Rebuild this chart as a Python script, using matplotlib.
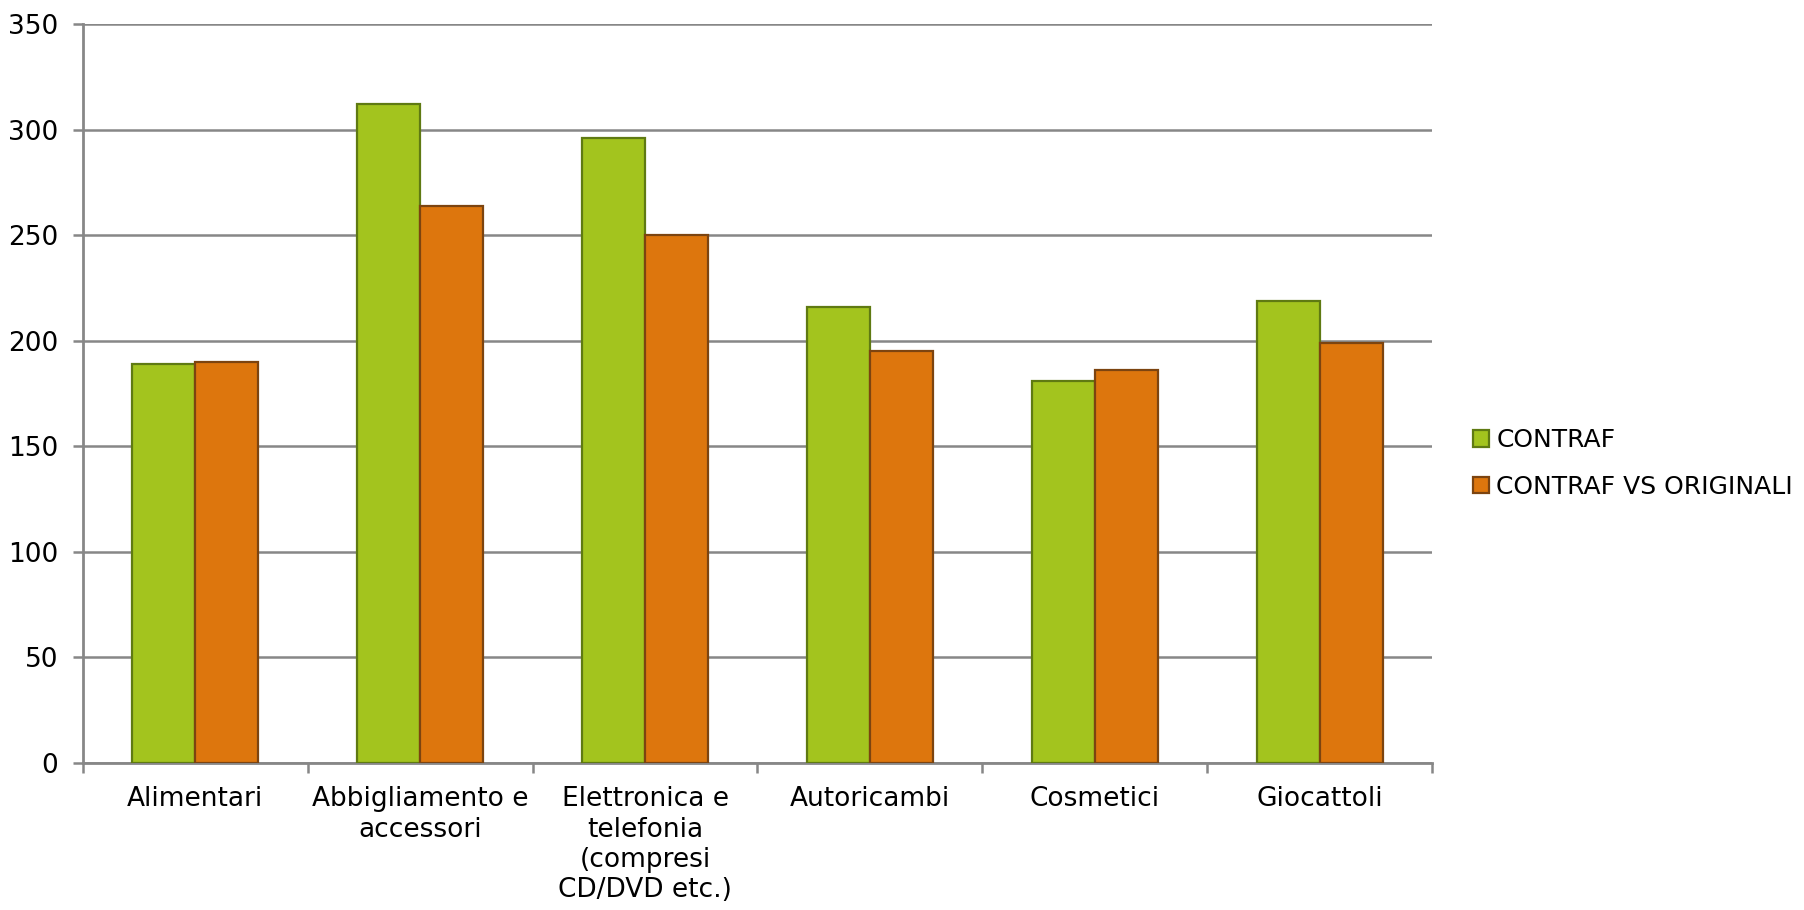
import numpy as np
import matplotlib
matplotlib.use("Agg")
import matplotlib.pyplot as plt

plt.rcParams['font.family'] = ['DejaVu Sans']

categorie = ["Alimentari", "Abbigliamento e\naccessori",
             "Elettronica e\ntelefonia\n(compresi\nCD/DVD etc.)",
             "Autoricambi", "Cosmetici", "Giocattoli"]
contraf = [189, 312, 296, 216, 181, 219]
contraf_vs_originali = [190, 264, 250, 195, 186, 199]

VERDE, VERDE_BORDO = "#a3c41e", "#5f7a12"
ARANCIO, ARANCIO_BORDO = "#dd760d", "#7c4410"
GRIGIO = "#878787"

fig = plt.figure(figsize=(18.04, 9.10), dpi=100)
ax = fig.add_axes([0.046, 0.162, 0.7478, 0.8113])

x = np.arange(len(categorie)) + 0.5
w = 0.28
ax.bar(x - w / 2, contraf, w, color=VERDE, edgecolor=VERDE_BORDO,
       linewidth=1.6, label="CONTRAF", zorder=3)
ax.bar(x + w / 2, contraf_vs_originali, w, color=ARANCIO, edgecolor=ARANCIO_BORDO,
       linewidth=1.6, label="CONTRAF VS ORIGINALI", zorder=3)

ax.set_xlim(0, len(categorie))
ax.set_ylim(0, 350)
ax.set_yticks(range(0, 351, 50))
ax.grid(axis='y', color=GRIGIO, linewidth=1.8, zorder=0)

# tacche sui confini delle categorie, etichette al centro
ax.set_xticks(range(len(categorie) + 1))
ax.set_xticklabels([])
ax.set_xticks(x, minor=True)
ax.set_xticklabels(categorie, minor=True, fontsize=19, linespacing=1.22,
                   ha='center', va='top')
ax.tick_params(axis='x', which='major', length=7, width=1.8, color=GRIGIO)
ax.tick_params(axis='x', which='minor', length=0, pad=17)
ax.tick_params(axis='y', length=7, width=1.8, color=GRIGIO, labelsize=19, pad=11)

for s in ['top', 'right']:
    ax.spines[s].set_visible(False)
for s in ['left', 'bottom']:
    ax.spines[s].set_color(GRIGIO)
    ax.spines[s].set_linewidth(2)

leg = ax.legend(loc='center left', bbox_to_anchor=(1.014, 0.405), frameon=False,
                fontsize=18, handlelength=0.62, handleheight=0.62,
                handletextpad=0.3, labelspacing=0.9)

fig.savefig("out.png", dpi=100)
